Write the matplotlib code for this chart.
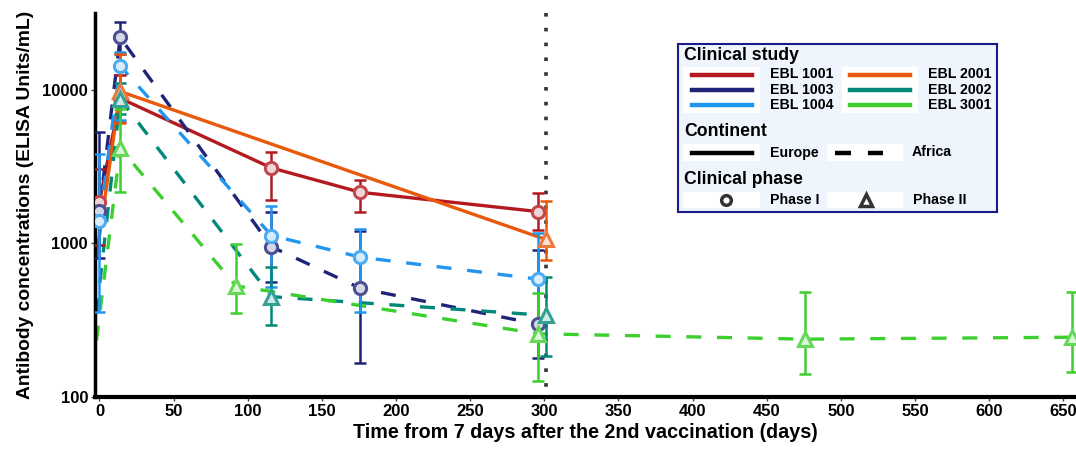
import numpy as np
import matplotlib
matplotlib.use('Agg')
import matplotlib.pyplot as plt
from matplotlib.colors import to_rgb

plt.rcParams['font.family'] = ['Liberation Sans', 'DejaVu Sans']
plt.rcParams['font.weight'] = 'bold'

# ==========================================
# DATA
# ==========================================
STUDIES = ['EBL 1001', 'EBL 1003', 'EBL 1004', 'EBL 2001', 'EBL 2002', 'EBL 3001']
COLORS = ['#b3191f', '#1f2478', '#2196f0', '#e8590c', '#00897b', '#3dcf2e']
CONTINENT = ['Europe', 'Africa', 'Africa', 'Europe', 'Africa', 'Africa']
PHASE = ['Phase I', 'Phase I', 'Phase I', 'Phase II', 'Phase II', 'Phase II']

nan = np.nan

ebl1001_t = [0, 14, 116, 176, 296]
ebl1001_v = [1870, 8800, 3100, 2150, 1610]
ebl1001_lo = [975, 6200, 1930, 1600, 1215]
ebl1001_hi = [3040, 12400, 3930, 2580, 2120]

ebl1003_t = [0, 14, 116, 176, 296]
ebl1003_v = [1630, 21900, 950, 510, 297]
ebl1003_lo = [805, 17000, 560, 166, 180]
ebl1003_hi = [5300, 27800, 1600, 1200, 905]

ebl1004_t = [0, 14, 116, 176, 296]
ebl1004_v = [1400, 14300, 1125, 813, 585]
ebl1004_lo = [355, 6400, 520, 360, 300]
ebl1004_hi = [3820, 17500, 1750, 1236, 1160]

ebl2001_t = [-2, 14, 301]
ebl2001_v = [820, 9750, 1060]
ebl2001_lo = [nan, 6120, 776]
ebl2001_hi = [nan, 17100, 1890]

ebl2002_t = [-2, 14, 116, 301]
ebl2002_v = [350, 8700, 450, 340]
ebl2002_lo = [nan, 7000, 294, 184]
ebl2002_hi = [nan, 11000, 706, 604]

ebl3001_t = [-2, 14, 92, 296, 476, 656]
ebl3001_v = [233, 4170, 529, 258, 238, 245]
ebl3001_lo = [nan, 2170, 351, 128, 141, 145]
ebl3001_hi = [nan, 7450, 990, 476, 481, 481]

SERIES = [
    (ebl1001_t, ebl1001_v, ebl1001_lo, ebl1001_hi),
    (ebl1003_t, ebl1003_v, ebl1003_lo, ebl1003_hi),
    (ebl1004_t, ebl1004_v, ebl1004_lo, ebl1004_hi),
    (ebl2001_t, ebl2001_v, ebl2001_lo, ebl2001_hi),
    (ebl2002_t, ebl2002_v, ebl2002_lo, ebl2002_hi),
    (ebl3001_t, ebl3001_v, ebl3001_lo, ebl3001_hi),
]

CUTOFF_DAY = 301
X_TICKS = list(range(0, 651, 50))
Y_TICKS = [100, 1000, 10000]

# ==========================================
# STYLE
# ==========================================
DASHED = (0, (4.5, 4.7))
LINE_W = 2.4
MARKERS = {'Phase I': 'o', 'Phase II': '^'}


def tint(c, f):
    r = np.array(to_rgb(c))
    return tuple(r + (1 - r) * f)


fig = plt.figure(figsize=(10.76, 4.5), dpi=100)
ax = fig.add_axes([95 / 1076, 53 / 450, 981 / 1076, 384 / 450])

for (t, v, lo, hi), col, cont, ph in zip(SERIES, COLORS, CONTINENT, PHASE):
    t = np.array(t, float)
    v = np.array(v, float)
    lo = np.array(lo, float)
    hi = np.array(hi, float)
    ls = '-' if cont == 'Europe' else DASHED
    ax.plot(t, v, color=col, lw=LINE_W, linestyle=ls, zorder=2)
    ok = ~np.isnan(hi)
    ax.errorbar(t[ok], v[ok], yerr=[v[ok] - lo[ok], hi[ok] - v[ok]], fmt='none',
                ecolor=col, elinewidth=1.8, capsize=4.5, capthick=1.8, zorder=3)
    ms = 8.8 if ph == 'Phase I' else 10.2
    ax.plot(t[ok], v[ok], linestyle='none', marker=MARKERS[ph], ms=ms, mew=2.2,
            mec=tint(col, 0.2), mfc=tint(col, 0.82), zorder=4)

# dotted cut-off line, drawn top to bottom so the dots start at the top
ax.axvline(CUTOFF_DAY, ymin=1, ymax=0, color='#333333', lw=2.6,
           linestyle=(0, (1, 3.1)), zorder=1)

ax.set_yscale('log')
ax.set_ylim(100, 31600)
ax.set_xlim(-3, 658.5)
ax.set_yticks(Y_TICKS)
ax.set_yticklabels([str(y) for y in Y_TICKS])
ax.yaxis.set_minor_locator(matplotlib.ticker.NullLocator())
ax.set_xticks(X_TICKS)
ax.tick_params(labelsize=12, length=3, width=1, color='#444444', pad=2)
for lab in ax.get_xticklabels() + ax.get_yticklabels():
    lab.set_fontweight('bold')

for s in ['top', 'right']:
    ax.spines[s].set_visible(False)
ax.spines['left'].set_linewidth(2.5)
ax.spines['bottom'].set_linewidth(3)

ax.set_xlabel('Time from 7 days after the 2nd vaccination (days)', fontsize=14.2,
              fontweight='bold', labelpad=3)
ax.set_ylabel('Antibody concentrations (ELISA Units/mL)', fontsize=13.9,
              fontweight='bold', labelpad=6)

# ==========================================
# LEGEND (custom box, ggplot-like)
# ==========================================
lg = fig.add_axes([678 / 1076, (450 - 212) / 450, 319 / 1076, 168 / 450])
lg.set_xlim(0, 319)
lg.set_ylim(168, 0)
lg.set_xticks([])
lg.set_yticks([])
lg.set_facecolor('#eef5fd')
for s in lg.spines.values():
    s.set_edgecolor('#1a1a8c')
    s.set_linewidth(1.5)


def key_box(x0, x1, y0, y1):
    lg.add_patch(plt.Rectangle((x0, y0), x1 - x0, y1 - y0, color='white', lw=0))


lg.text(6, 11, 'Clinical study', fontsize=12.7, fontweight='bold', va='center')
key_box(5, 82, 23, 69)
key_box(164, 240, 23, 69)
rows_y = [30.5, 45.5, 61]
for i, (name, col) in enumerate(zip(STUDIES, COLORS)):
    colx = 0 if i < 3 else 158
    y = rows_y[i % 3]
    lg.plot([14 + colx, 74 + colx], [y, y], color=col, lw=3.2)
    lg.text(92 + colx, y, name, fontsize=10.2, fontweight='bold', va='center')

lg.text(6, 88, 'Continent', fontsize=12.7, fontweight='bold', va='center')
key_box(5, 82, 100, 117)
key_box(149, 225, 100, 117)
lg.plot([14, 74], [108.5, 108.5], color='black', lw=3.2)
lg.plot([157, 205], [108.5, 108.5], color='black', lw=3.2, linestyle=(0, (3.6, 3.8)))
lg.text(92, 108.5, 'Europe', fontsize=10.2, fontweight='bold', va='center')
lg.text(234, 108.5, 'Africa', fontsize=10.2, fontweight='bold', va='center')

lg.text(6, 135, 'Clinical phase', fontsize=12.7, fontweight='bold', va='center')
key_box(5, 82, 148, 164)
key_box(149, 225, 148, 164)
lg.plot([48], [156], marker='o', ms=7, mew=2.5, mec='#333333', mfc='white', ls='none')
lg.plot([188], [156], marker='^', ms=9, mew=2.5, mec='#333333', mfc='white', ls='none')
lg.text(92, 156, 'Phase I', fontsize=10.2, fontweight='bold', va='center')
lg.text(235, 156, 'Phase II', fontsize=10.2, fontweight='bold', va='center')

fig.savefig('out.png', dpi=100)
